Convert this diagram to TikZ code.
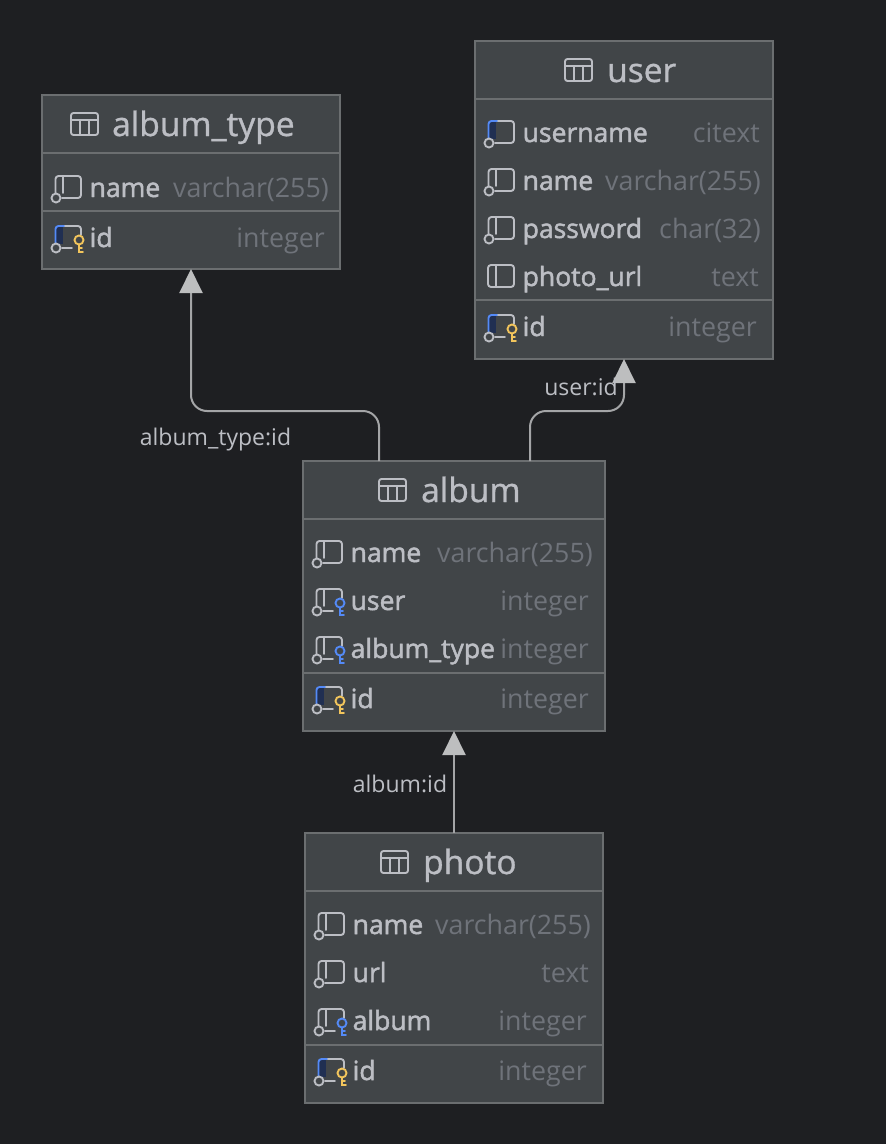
\documentclass[tikz,border=0pt]{standalone}
\usepackage{fontspec}
\setmainfont{Open Sans}
\usetikzlibrary{calc,arrows.meta}
\definecolor{bgdark}{HTML}{1E1F22}
\definecolor{boxfill}{HTML}{414548}
\definecolor{boxline}{HTML}{6B6E70}
\definecolor{fgtext}{HTML}{BCBEC4}
\definecolor{typetext}{HTML}{6F737A}
\definecolor{linkgray}{HTML}{A4A5A7}
\definecolor{tipgray}{HTML}{BDBEBF}
\definecolor{iconblue}{HTML}{548AF7}
\definecolor{bluefill}{HTML}{202F52}
\definecolor{keygold}{HTML}{F2C55C}
\tikzset{
	tablebox/.style={draw=boxline,fill=boxfill,line width=1.5pt,inner sep=0pt,outer sep=0pt,minimum width=#1},
	titletext/.style={anchor=base west,inner sep=0pt,text=fgtext,font=\fontsize{33.5}{40}\selectfont\addfontfeature{FakeBold=1}},
	colname/.style={anchor=base west,inner sep=0pt,text=fgtext,font=\fontsize{26.5}{32}\selectfont\addfontfeature{FakeBold=1.8}},
	coltype/.style={anchor=base east,inner sep=0pt,text=typetext,font=\fontsize{26.8}{32}\selectfont},
	linklabel/.style={anchor=base,inner sep=0pt,text=fgtext,font=\fontsize{23}{28}\selectfont},
	rowrule/.style={draw=boxline,line width=1.5pt},
	link/.style={draw=linkgray,line width=2pt,rounded corners=16pt,-{Triangle[width=23pt,length=24pt,color=tipgray]}},
	icon/.style={draw=fgtext,line width=1.9pt,line cap=round},
	pics/tableicon/.style={code={
		\draw[icon,rounded corners=2.5pt] (0,-11) rectangle (27,11);
		\draw[icon] (0,-4) -- (27,-4) (9,-4) -- (9,11) (18,-4) -- (18,11);
	}},
	pics/colplain/.style={code={
		\draw[icon,rounded corners=3pt] (13.5,5) -- (13.5,-12) -- (39,-12) -- (39,10) -- (20,10);
		\draw[icon] (21,-12) -- (21,5);
		\draw[icon] (14,10) circle (4.5pt);
	}},
	pics/colbare/.style={code={
		\draw[icon,rounded corners=3pt] (13,-12) rectangle (39,10);
		\draw[icon] (21,-12) -- (21,10);
	}},
	pics/colblue/.style={code={
		\fill[bluefill] (13.5,-12) rectangle (21,6);
		\draw[icon,rounded corners=3pt] (22,-12) -- (39,-12) -- (39,10) -- (20,10);
		\draw[icon,draw=iconblue,rounded corners=3pt] (13.5,5) -- (13.5,-12) -- (22,-12);
		\draw[icon] (14,10) circle (4.5pt);
	}},
	pics/colfk/.style={code={
		\draw[icon,rounded corners=3pt] (13.5,5) -- (13.5,-12) -- (39,-12) -- (39,-3);
		\draw[icon] (21,-12) -- (21,5) (20,10) -- (30,10);
		\draw[icon] (14,10) circle (4.5pt);
		\draw[icon,draw=iconblue] (37,2) circle (4.5pt) (37,6.5) -- (37,14) -- (41,14) (37,10) -- (40,10);
	}},
	pics/colpk/.style={code={
		\fill[bluefill] (13.5,-12) rectangle (21,6);
		\draw[icon,rounded corners=3pt] (22,-12) -- (39,-12) -- (39,-3);
		\draw[icon] (20,10) -- (30,10);
		\draw[icon,draw=iconblue,rounded corners=3pt] (13.5,5) -- (13.5,-12) -- (22,-12);
		\draw[icon] (14,10) circle (4.5pt);
		\draw[icon,draw=keygold] (37,2) circle (4.5pt) (37,6.5) -- (37,14) -- (41,14) (37,10) -- (40,10);
	}},
}
\begin{document}
\begin{tikzpicture}[x=1pt,y=-1pt]
	\fill[bgdark] (0,0) rectangle (886,1144);
	\useasboundingbox (0,0) rectangle (886,1144);

	% tables
	\node[tablebox=298pt,minimum height=174pt] (album_type) at (191,182) {};
	\node[tablebox=298pt,minimum height=318pt] (user) at (624,200) {};
	\node[tablebox=302pt,minimum height=270pt] (album) at (454,596) {};
	\node[tablebox=298pt,minimum height=270pt] (photo) at (454,968) {};

	% title, icon and rules of each table
	\foreach \tb/\ic/\tx/\ty/\rulea/\ruleb in {album_type/29/70/album\_type/58/116,user/90/132/user/58/259,album/76/118/album/58/212,photo/76/118/photo/58/212} {
		\pic at ($(\tb.north west)+(\ic,29)$) {tableicon};
		\node[titletext] (\tb-title) at ($(\tb.north west)+(\tx,41)$) {\ty};
		\draw[rowrule] ($(\tb.north west)+(0,\rulea)$) -- ($(\tb.north east)+(0,\rulea)$);
		\draw[rowrule] ($(\tb.north west)+(0,\ruleb)$) -- ($(\tb.north east)+(0,\ruleb)$);
	}

	% rows: table/offset/icon/name/type/gap
	\foreach \tb/\ry/\ic/\nm/\ty/\gap in {
		album_type/93/colplain/name/varchar(255)/11,
		album_type/143/colpk/id/integer/15,
		user/92/colblue/username/citext/13,
		user/140/colplain/name/varchar(255)/12,
		user/188/colplain/password/char(32)/12,
		user/236/colbare/photo\_url/text/14,
		user/286/colpk/id/integer/16,
		album/92/colplain/name/varchar(255)/12,
		album/140/colfk/user/integer/16,
		album/188/colfk/album\_type/integer/16,
		album/238/colpk/id/integer/16,
		photo/92/colplain/name/varchar(255)/12,
		photo/140/colplain/url/text/14,
		photo/188/colfk/album/integer/16,
		photo/238/colpk/id/integer/16} {
		\pic at ($(\tb.north west)+(0,\ry)$) {\ic};
		\node[colname] (\tb-\ry-name) at ($(\tb.north west)+(47.5,\ry+9)$) {\nm};
		\node[coltype] (\tb-\ry-type) at ($(\tb.north east)+(-\gap,\ry+9)$) {\ty};
	}

	% references
	\coordinate (typeStart) at ($(album.north west)+(76,0)$);
	\coordinate (userStart) at ($(album.north west)+(227,0)$);
	\coordinate (bend) at (454,411);

	\draw[link] (typeStart) -- (typeStart |- bend) -- (bend -| album_type.south) -- (album_type.south);
	\draw[link] (userStart) -- (userStart |- bend) -- (bend -| user.south) -- (user.south);
	\draw[link] (photo.north) -- (album.south);

	\node[linklabel] (typeLabel) at (215.5,445) {album\_type:id};
	\node[linklabel] (userLabel) at (581,395) {user:id};
	\node[linklabel] (albumLabel) at (400,792) {album:id};
\end{tikzpicture}
\end{document}
